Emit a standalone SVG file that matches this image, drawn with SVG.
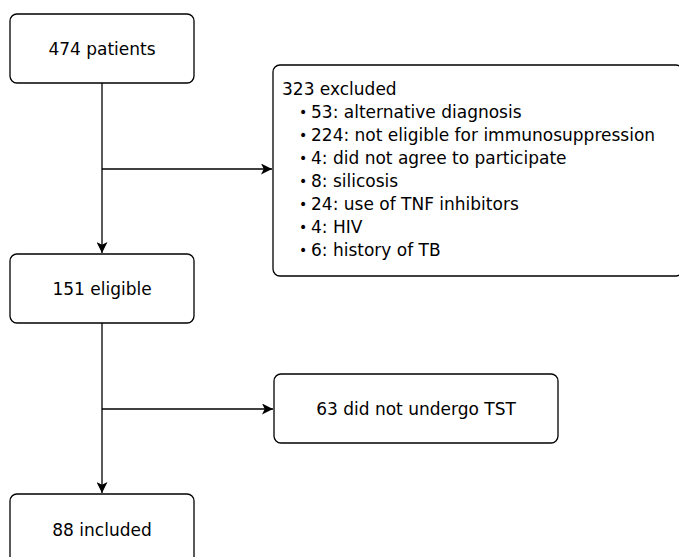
<svg xmlns="http://www.w3.org/2000/svg" width="679" height="557" viewBox="0 0 679 557">
<style>
.box{fill:#fff;stroke:#000;stroke-width:1.3}
.lbl{font-family:"DejaVu Sans",sans-serif;font-size:17px;fill:#000}
.bul{font-size:14px}
.mid{text-anchor:middle}
.conn{fill:none;stroke:#000;stroke-width:1.3}
</style>
<defs>
<marker id="arr" viewBox="0 0 10 10" refX="10" refY="5" markerWidth="11" markerHeight="11" markerUnits="userSpaceOnUse" orient="auto">
<path d="M0,0 L10,5 L0,10 L2.5,5 Z" fill="#000"/>
</marker>
</defs>
<g id="connectors">
<path class="conn" d="M102,83 V253" marker-end="url(#arr)"/>
<path class="conn" d="M102,169 H272" marker-end="url(#arr)"/>
<path class="conn" d="M102,323 V493" marker-end="url(#arr)"/>
<path class="conn" d="M102,409 H273" marker-end="url(#arr)"/>
</g>
<g id="n474">
<rect class="box" x="10" y="14" width="184" height="69" rx="7"/>
<text class="lbl mid" x="102" y="55">474 patients</text>
</g>
<g id="excluded">
<rect class="box" x="273" y="65" width="410" height="211" rx="7"/>
<text class="lbl" x="282" y="95">323 excluded</text>
<g class="lbl">
<text class="bul" x="299" y="117">•</text><text x="311" y="118">53: alternative diagnosis</text>
<text class="bul" x="299" y="140">•</text><text x="311" y="141">224: not eligible for immunosuppression</text>
<text class="bul" x="299" y="163">•</text><text x="311" y="164">4: did not agree to participate</text>
<text class="bul" x="299" y="186">•</text><text x="311" y="187">8: silicosis</text>
<text class="bul" x="299" y="209">•</text><text x="311" y="210">24: use of TNF inhibitors</text>
<text class="bul" x="299" y="232">•</text><text x="311" y="233">4: HIV</text>
<text class="bul" x="299" y="255">•</text><text x="311" y="256">6: history of TB</text>
</g>
</g>
<g id="eligible">
<rect class="box" x="10" y="254" width="184" height="69" rx="7"/>
<text class="lbl mid" x="102" y="295">151 eligible</text>
</g>
<g id="noTST">
<rect class="box" x="274" y="374" width="284" height="69" rx="7"/>
<text class="lbl mid" x="416" y="415">63 did not undergo TST</text>
</g>
<g id="included">
<rect class="box" x="10" y="494" width="184" height="72" rx="7"/>
<text class="lbl mid" x="102" y="536">88 included</text>
</g>
</svg>
